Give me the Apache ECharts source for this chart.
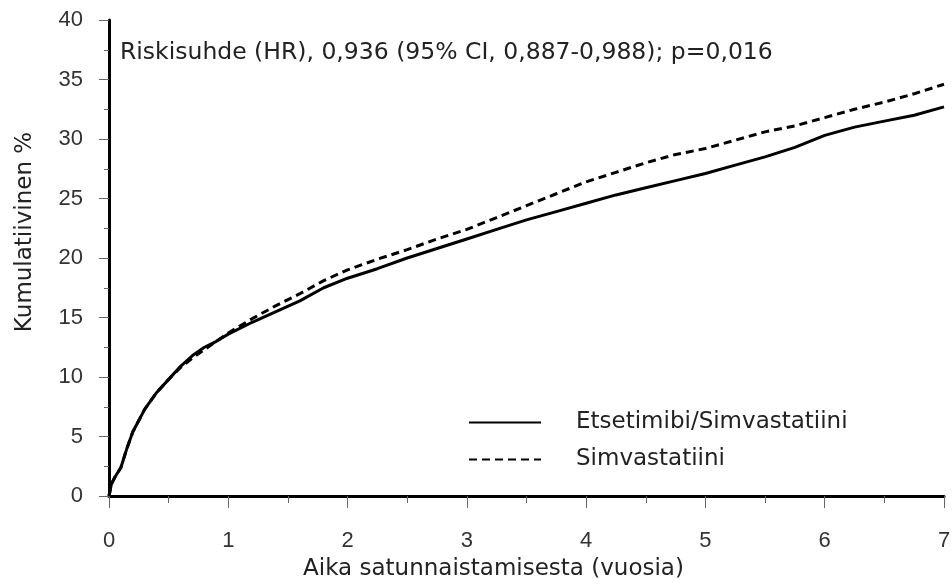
<!DOCTYPE html>
<html>
<head>
<meta charset="utf-8">
<script src="https://cdn.jsdelivr.net/npm/echarts@6/dist/echarts.min.js"></script>
<style>
  html, body { margin: 0; padding: 0; background: #fff; }
  #chart { width: 952px; height: 584px; }
</style>
</head>
<body>
<div id="chart"></div>
<script>
// vuodet satunnaistamisesta
const years = [0, 0.02, 0.05, 0.1, 0.15, 0.2, 0.3, 0.4, 0.5, 0.6, 0.7, 0.8, 0.9, 1.0,
  1.2, 1.4, 1.6, 1.8, 2.0, 2.25, 2.5, 2.75, 3.0, 3.25, 3.5, 3.75, 4.0, 4.25, 4.5,
  4.75, 5.0, 5.25, 5.5, 5.75, 6.0, 6.25, 6.5, 6.75, 7.0]

const ezeSimva = [0, 1.0, 1.6, 2.4, 4.0, 5.4, 7.3, 8.7, 9.8, 10.9, 11.8, 12.5, 13.0, 13.6,
  14.6, 15.5, 16.4, 17.5, 18.3, 19.1, 20.0, 20.8, 21.6, 22.4, 23.2, 23.9, 24.6, 25.3, 25.9,
  26.5, 27.1, 27.8, 28.5, 29.3, 30.3, 31.0, 31.5, 32.0, 32.7]

const simva = [0, 1.0, 1.6, 2.4, 4.0, 5.4, 7.3, 8.7, 9.8, 10.8, 11.6, 12.3, 13.0, 13.7,
  14.9, 16.0, 17.0, 18.1, 19.0, 19.9, 20.7, 21.6, 22.4, 23.4, 24.4, 25.4, 26.4, 27.2, 28.0,
  28.7, 29.2, 29.9, 30.6, 31.1, 31.8, 32.5, 33.1, 33.8, 34.6]

const seriesNames = ['Etsetimibi/Simvastatiini', 'Simvastatiini']
const annotation = 'Riskisuhde (HR), 0,936 (95% CI, 0,887-0,988); p=0,016'

const chart = echarts.init(document.getElementById('chart'))

function pairs(vals) {
  return years.map((t, i) => [t, vals[i]])
}

const textFont = 'DejaVu Sans'

const option = {
  animation: false,
  backgroundColor: '#fff',
  grid: { left: 109, right: 8, top: 20, bottom: 88, outerBoundsMode: 'none' },
  legend: {
    orient: 'vertical',
    left: 468,
    top: 411,
    padding: 0,
    itemWidth: 72,
    itemHeight: 14,
    itemGap: 14,
    data: seriesNames,
    itemStyle: { opacity: 0 },
    textStyle: {
      fontFamily: textFont,
      fontSize: 23,
      color: '#222',
      padding: [0, 0, 0, 30]
    }
  },
  xAxis: {
    type: 'value',
    min: 0,
    max: 7,
    interval: 1,
    name: 'Aika satunnaistamisesta (vuosia)',
    nameLocation: 'middle',
    nameGap: 62,
    nameTextStyle: {
      fontFamily: textFont,
      fontSize: 23,
      color: '#222',
      padding: [0, 66, 0, 0]
    },
    axisLine: { lineStyle: { color: '#000', width: 3 } },
    axisTick: { length: 12, lineStyle: { color: '#666', width: 1 } },
    minorTick: { show: true, splitNumber: 2, length: 7, lineStyle: { color: '#666' } },
    axisLabel: { fontFamily: 'Liberation Sans', fontSize: 22, color: '#333', margin: 34 },
    splitLine: { show: false }
  },
  yAxis: {
    type: 'value',
    min: 0,
    max: 40,
    interval: 5,
    name: 'Kumulatiivinen %',
    nameLocation: 'middle',
    nameGap: 72,
    nameTextStyle: {
      fontFamily: textFont,
      fontSize: 23,
      color: '#222',
      padding: [0, 0, 0, 52]
    },
    axisLine: { show: true, lineStyle: { color: '#000', width: 3 } },
    axisTick: { show: true, length: 10, lineStyle: { color: '#666', width: 1 } },
    minorTick: { show: true, splitNumber: 2, length: 5, lineStyle: { color: '#666' } },
    axisLabel: {
      fontFamily: 'Liberation Sans',
      fontSize: 22,
      color: '#333',
      margin: 26,
      padding: [14, 0, 0, 0]
    },
    splitLine: { show: false }
  },
  graphic: [{
    type: 'text',
    left: 120,
    top: 41,
    style: {
      text: annotation,
      fontFamily: textFont,
      fontSize: 23.5,
      fill: '#222'
    }
  }],
  series: [
    {
      name: seriesNames[0],
      type: 'line',
      symbol: 'none',
      data: pairs(ezeSimva),
      lineStyle: { color: '#000', width: 3 },
      itemStyle: { color: '#000' }
    },
    {
      name: seriesNames[1],
      type: 'line',
      symbol: 'none',
      data: pairs(simva),
      lineStyle: { color: '#000', width: 3, type: [8, 5] },
      itemStyle: { color: '#000' }
    }
  ]
}

chart.setOption(option)
</script>
</body>
</html>
